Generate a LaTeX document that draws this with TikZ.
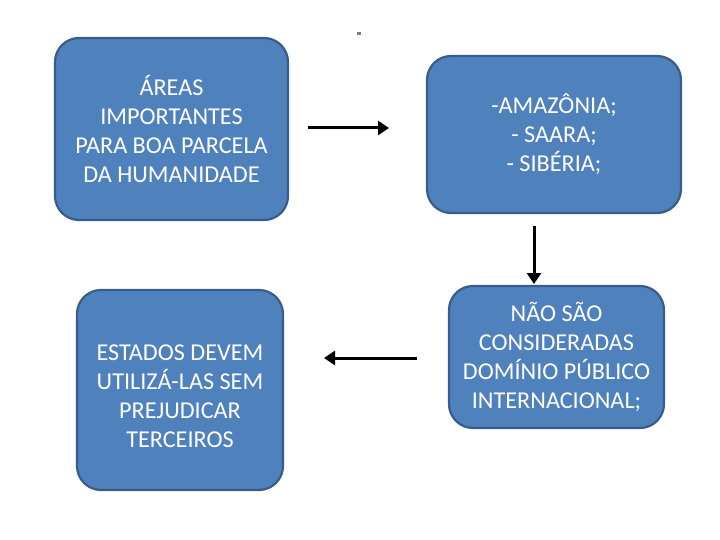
\documentclass[tikz,border=0pt]{standalone}
\usepackage{fontspec}
\setmainfont{Carlito}
\usetikzlibrary{arrows.meta}
\definecolor{boxfill}{HTML}{4F81BD}
\definecolor{boxline}{HTML}{385D8A}
\begin{document}
\begin{tikzpicture}[x=1pt,y=-1pt,
  box/.style={draw=boxline,line width=2.2pt,fill=boxfill,rounded corners=24pt,text=white,
    align=center,font=\fontsize{24.2}{29}\selectfont,inner sep=0pt},
  arr/.style={line width=3pt,-{Triangle[length=11pt,width=14pt]}}]
\useasboundingbox (0,0) rectangle (720,540);
\node[box,minimum width=233pt,minimum height=182pt] (a) at (171.5,129) {ÁREAS\\IMPORTANTES\\PARA BOA PARCELA\\DA HUMANIDADE};
\node[box,minimum width=254pt,minimum height=157pt] (b) at (554,134.5) {-AMAZÔNIA;\\- SAARA;\\- SIBÉRIA;};
\node[box,minimum width=215pt,minimum height=142pt] (c) at (556.5,357) {NÃO SÃO\\CONSIDERADAS\\DOMÍNIO PÚBLICO\\INTERNACIONAL;};
\node[box,minimum width=206pt,minimum height=200pt] (d) at (180,390) {};
\node[text=white,align=center,font=\fontsize{24.2}{29}\selectfont,inner sep=0pt] (dt) at (180,396) {ESTADOS DEVEM\\UTILIZÁ-LAS SEM\\PREJUDICAR\\TERCEIROS};
\coordinate (a1) at (308,128);
\coordinate (b1) at (389,128);
\coordinate (b2) at (534,226);
\coordinate (c1) at (534,284);
\coordinate (c2) at (417,358);
\coordinate (d1) at (324,358);
\draw[arr] (a1) -- (b1);
\draw[arr] (b2) -- (c1);
\draw[arr] (c2) -- (d1);
\fill[gray] (357,32) rectangle (361,35);
\end{tikzpicture}
\end{document}
